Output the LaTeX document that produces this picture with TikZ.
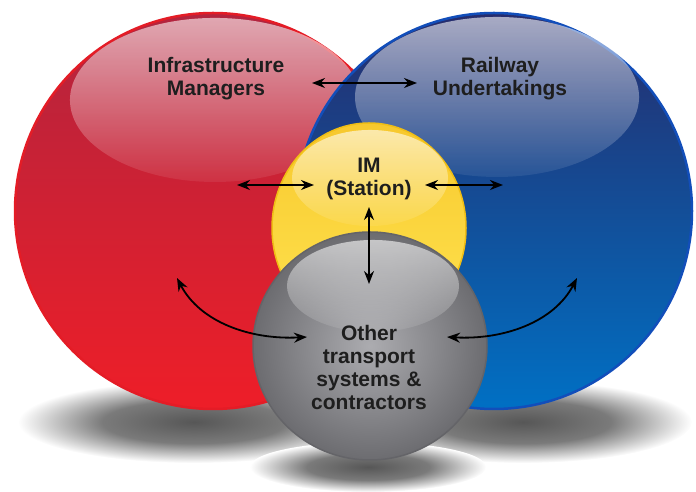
\documentclass[tikz,border=0pt]{standalone}
\usepackage{fontspec}
\setmainfont{Liberation Sans}
\usetikzlibrary{arrows.meta,fadings}
\definecolor{redtop}{RGB}{178,36,62}
\definecolor{redbot}{RGB}{238,30,40}
\definecolor{redrim}{RGB}{228,28,38}
\definecolor{bluetop}{RGB}{38,44,108}
\definecolor{bluebot}{RGB}{0,112,196}
\definecolor{bluerim}{RGB}{18,78,186}
\definecolor{yeltop}{RGB}{247,200,45}
\definecolor{yelbot}{RGB}{255,228,80}
\definecolor{yelrim}{RGB}{240,190,20}
\definecolor{greyin}{RGB}{172,172,176}
\definecolor{greyout}{RGB}{108,108,112}
\definecolor{greyrim}{RGB}{100,100,104}
\definecolor{inktxt}{RGB}{30,30,30}
\tikzfading[name=glossfade, top color=transparent!40, bottom color=transparent!93]
\pgfdeclareradialshading{dropshadow}{\pgfpoint{0bp}{0bp}}{color(0bp)=(black!66); color(13bp)=(black!52); color(25bp)=(white); color(50bp)=(white)}
\begin{document}
\begin{tikzpicture}[x=1pt,y=1pt,
  lbl/.style={align=center,font=\fontsize{21}{23}\selectfont\bfseries,text=inktxt},
  link/.style={line width=1.8pt,{Stealth[length=13pt,width=10pt]}-{Stealth[length=13pt,width=10pt]}},
  gloss/.style={fill=white,path fading=glossfade}]
\useasboundingbox (0,0) rectangle (696,492);
% shadows
\shade[shading=dropshadow] (194,70) ellipse (176 and 41);
\shade[shading=dropshadow] (523,70) ellipse (169 and 41);
\shade[shading=dropshadow] (368,25) ellipse (118 and 25);
% balls
\shadedraw[top color=redtop,bottom color=redbot,draw=redrim,line width=2.5pt] (213,281) circle (198);
\fill[gloss] (215,392) ellipse (145 and 82);
\shadedraw[top color=bluetop,bottom color=bluebot,draw=bluerim,line width=2.5pt] (494,281) circle (198);
\fill[gloss] (497,395) ellipse (142 and 80);
\shadedraw[top color=yeltop,bottom color=yelbot,draw=yelrim,line width=1.5pt] (369,264) ellipse (97 and 105);
\fill[gloss] (370,314) ellipse (78 and 48);
\shadedraw[inner color=greyin,outer color=greyout,draw=greyrim,line width=1.5pt] (370,146) ellipse (117 and 114);
\fill[gloss] (373,206) ellipse (86 and 46);
% labels
\node[lbl] (infra) at (216,413) {Infrastructure\\Managers};
\node[lbl] (rail) at (500,413) {Railway\\Undertakings};
\node[lbl] (station) at (369,313) {IM\\(Station)};
\node[lbl] (other) at (369,125) {Other\\transport\\systems \&\\contractors};
% arrow ends
\coordinate (infraE) at (312,409);
\coordinate (railW) at (417,409);
\coordinate (redmid) at (237,307);
\coordinate (stationW) at (314,307);
\coordinate (stationE) at (425,307);
\coordinate (bluemid) at (503,307);
\coordinate (stationS) at (369,285);
\coordinate (otherN) at (369,208);
\coordinate (redlow) at (177,214);
\coordinate (otherW) at (307,155);
\coordinate (otherE) at (447,155);
\coordinate (bluelow) at (577,214);
\draw[link] (infraE) -- (railW);
\draw[link] (redmid) -- (stationW);
\draw[link] (stationE) -- (bluemid);
\draw[link] (stationS) -- (otherN);
\draw[link] (redlow) .. controls (200,170) and (250,152) .. (otherW);
\draw[link] (otherE) .. controls (504,152) and (554,170) .. (bluelow);
\end{tikzpicture}
\end{document}
